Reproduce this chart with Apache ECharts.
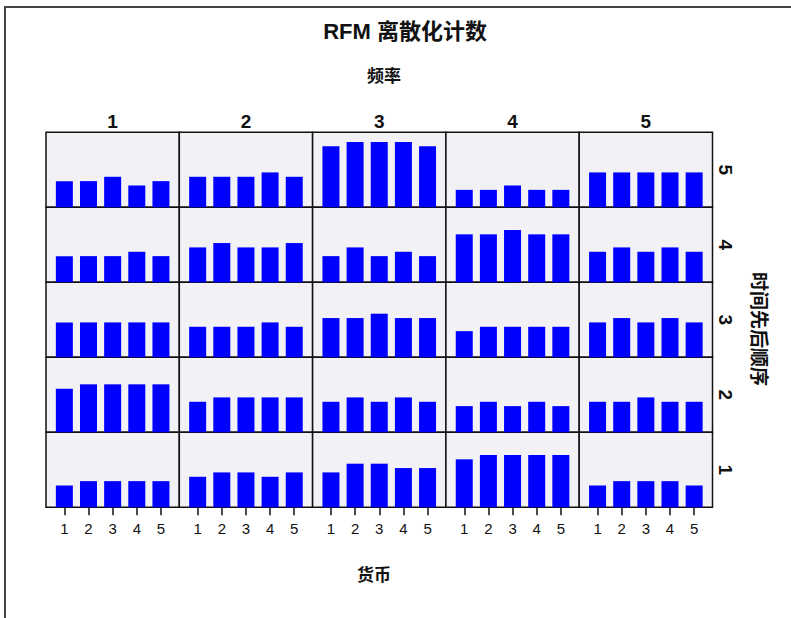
<!DOCTYPE html>
<html>
<head>
<meta charset="utf-8">
<script src="https://cdn.jsdelivr.net/npm/echarts@6/dist/echarts.min.js"></script>
<style>
html,body{margin:0;padding:0;background:#fff;}
#chart{width:791px;height:618px;}
</style>
</head>
<body>
<div id="chart"></div>
<script>
// Category labels
const monetary = ['1', '2', '3', '4', '5'];      // 货币 (x within each cell)
const frequency = ['1', '2', '3', '4', '5'];     // 频率 (columns)
const recency = ['5', '4', '3', '2', '1'];       // 时间先后顺序 (rows, top to bottom)

// Counts: for each recency level, one array per frequency level (1..5), values for monetary 1..5
const recency5 = [[6, 6, 7, 5, 6], [7, 7, 7, 8, 7], [14, 15, 15, 15, 14], [4, 4, 5, 4, 4], [8, 8, 8, 8, 8]];
const recency4 = [[6, 6, 6, 7, 6], [8, 9, 8, 8, 9], [6, 8, 6, 7, 6], [11, 11, 12, 11, 11], [7, 8, 7, 8, 7]];
const recency3 = [[8, 8, 8, 8, 8], [7, 7, 7, 8, 7], [9, 9, 10, 9, 9], [6, 7, 7, 7, 7], [8, 9, 8, 9, 8]];
const recency2 = [[10, 11, 11, 11, 11], [7, 8, 8, 8, 8], [7, 8, 7, 8, 7], [6, 7, 6, 7, 6], [7, 7, 8, 7, 7]];
const recency1 = [[5, 6, 6, 6, 6], [7, 8, 8, 7, 8], [8, 10, 10, 9, 9], [11, 12, 12, 12, 12], [5, 6, 6, 6, 5]];

const rowsData = [recency5, recency4, recency3, recency2, recency1];

// Layout
const cellLeft = 46, cellTop = 132.3, cellW = 133.3, cellH = 75;
const cjk = '"Liberation Sans", Arial, "Noto Sans CJK SC", sans-serif';

const grids = [], xAxes = [], yAxes = [], series = [];
let idx = 0;
for (let r = 0; r < 5; r++) {
  for (let c = 0; c < 5; c++) {
    const bottom = r === 4;
    grids.push({
      left: cellLeft + c * cellW, top: cellTop + r * cellH, width: cellW, height: cellH,
      show: true, backgroundColor: '#F2F1F5', borderColor: '#111', borderWidth: 1.5,
      containLabel: false
    });
    xAxes.push({
      gridIndex: idx, type: 'value', min: 0.24, max: 5.76,
      splitLine: { show: false },
      axisLine: { show: false },
      axisTick: { show: bottom, customValues: monetary.map(Number), length: 8, lineStyle: { color: '#111', width: 1.5 } },
      axisLabel: {
        show: bottom, customValues: monetary.map(Number), margin: 14,
        formatter: v => monetary[Math.round(v) - 1],
        color: '#111', fontSize: 15, fontFamily: '"Liberation Sans Narrow", "Liberation Sans", Arial, sans-serif'
      }
    });
    yAxes.push({
      gridIndex: idx, type: 'value', min: 0, max: 17.2, show: false,
      splitLine: { show: false }
    });
    series.push({
      type: 'bar', xAxisIndex: idx, yAxisIndex: idx,
      barWidth: 17,
      itemStyle: { color: '#0000FF' },
      silent: true,
      data: rowsData[r][c].map((v, i) => [Number(monetary[i]), v])
    });
    idx++;
  }
}

const graphics = [
  // outer frame (top & left edges)
  { type: 'polyline', shape: { points: [[5, 618], [5, 7], [791, 7]] }, style: { stroke: '#444', lineWidth: 2, fill: null } },
  { type: 'text', x: 405, y: 31, style: { text: 'RFM 离散化计数', font: 'bold 22px ' + cjk, fill: '#111', textAlign: 'center', textVerticalAlign: 'middle' } },
  { type: 'text', x: 384, y: 76, style: { text: '频率', font: 'bold 17px ' + cjk, fill: '#111', textAlign: 'center', textVerticalAlign: 'middle' } },
  { type: 'text', x: 374, y: 575, style: { text: '货币', font: 'bold 17px ' + cjk, fill: '#111', textAlign: 'center', textVerticalAlign: 'middle' } },
  { type: 'text', x: 758, y: 329, rotation: -Math.PI / 2, style: { text: '时间先后顺序', font: 'bold 19px ' + cjk, fill: '#111', textAlign: 'center', textVerticalAlign: 'middle' } }
];
frequency.forEach((f, c) => {
  graphics.push({ type: 'text', x: cellLeft + (c + 0.5) * cellW, y: 121, style: { text: f, font: 'bold 19px ' + cjk, fill: '#111', textAlign: 'center', textVerticalAlign: 'middle' } });
});
recency.forEach((rv, r) => {
  graphics.push({ type: 'text', x: 725, y: cellTop + (r + 0.5) * cellH, rotation: -Math.PI / 2, style: { text: rv, font: 'bold 19px ' + cjk, fill: '#111', textAlign: 'center', textVerticalAlign: 'middle' } });
});

const chart = echarts.init(document.getElementById('chart'), null, { renderer: 'svg' });
chart.setOption({
  animation: false,
  backgroundColor: '#FFFFFF',
  grid: grids,
  xAxis: xAxes,
  yAxis: yAxes,
  series: series,
  graphic: graphics
});
</script>
</body>
</html>
